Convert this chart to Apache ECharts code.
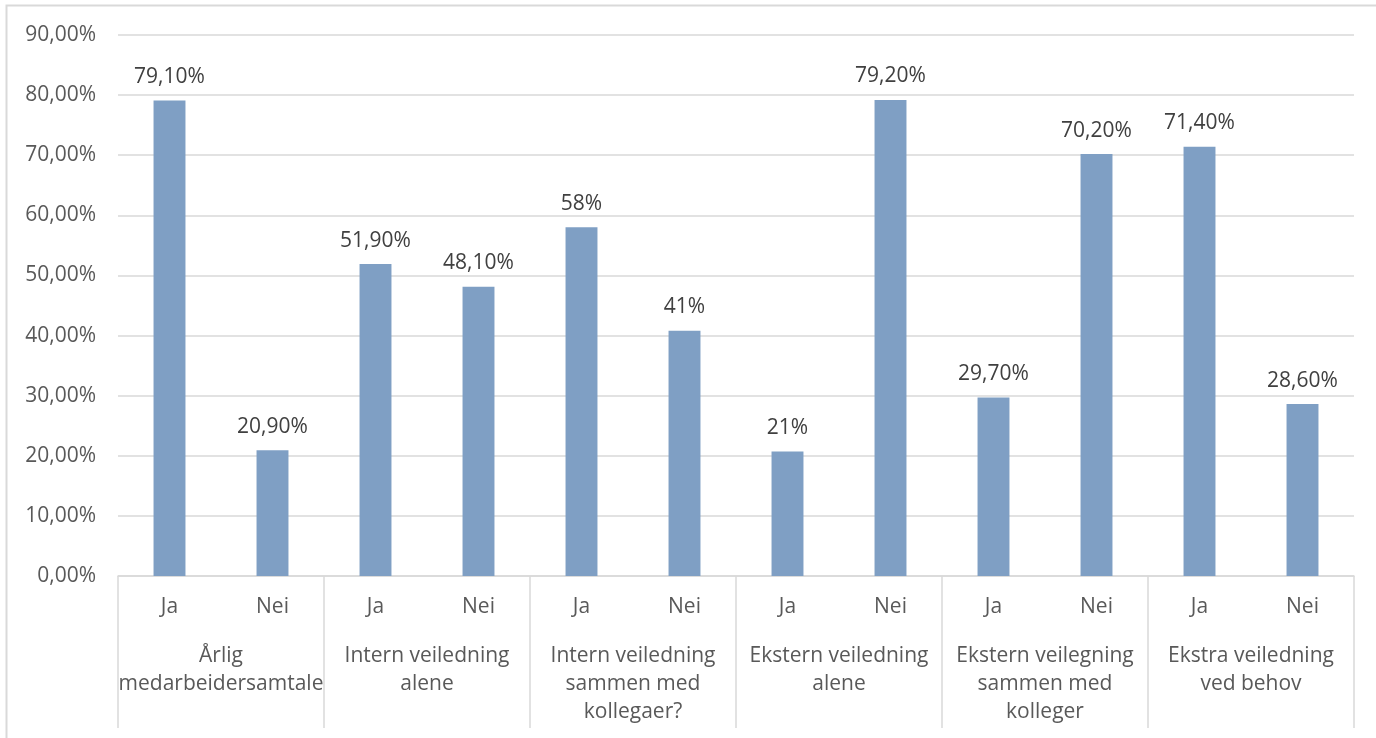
<!DOCTYPE html>
<html>
<head>
<meta charset="utf-8">
<script src="https://cdn.jsdelivr.net/npm/echarts@6/dist/echarts.min.js"></script>
<style>
html, body { margin: 0; padding: 0; background: #fff; }
#chart { width: 1376px; height: 738px; }
</style>
</head>
<body>
<div id="chart"></div>
<script>
const answers = ['Ja', 'Nei', 'Ja', 'Nei', 'Ja', 'Nei', 'Ja', 'Nei', 'Ja', 'Nei', 'Ja', 'Nei']
const groups = [
    'Årlig\nmedarbeidersamtale',
    'Intern veiledning\nalene',
    'Intern veiledning\nsammen med\nkollegaer?',
    'Ekstern veiledning\nalene',
    'Ekstern veilegning\nsammen med\nkolleger',
    'Ekstra veiledning\nved behov'
]
const values = [79.1, 20.9, 51.9, 48.1, 58, 40.8, 20.7, 79.2, 29.7, 70.2, 71.4, 28.6]
const valueLabels = ['79,10%', '20,90%', '51,90%', '48,10%', '58%', '41%', '21%', '79,20%', '29,70%', '70,20%', '71,40%', '28,60%']

let chart = echarts.init(document.getElementById('chart'))
const font = 'Open Sans'
const gridColor = '#d9d9d9'
const fs = 21

let option = {
    animation: false,
    textStyle: { fontFamily: font },
    grid: { left: 118, right: 22, top: 35, bottom: 162 },
    graphic: [{
        type: 'rect',
        shape: { x: 6.5, y: 5.5, width: 1400, height: 800 },
        style: { fill: 'none', stroke: gridColor, lineWidth: 2 },
        silent: true
    }],
    xAxis: [{
        type: 'category',
        data: answers,
        position: 'bottom',
        axisLine: { show: true, lineStyle: { color: gridColor, width: 1.5 } },
        axisTick: { show: false },
        axisLabel: { interval: 0, color: '#595959', fontSize: fs, margin: 21, fontFamily: font }
    }, {
        type: 'category',
        data: groups,
        position: 'bottom',
        axisLine: { show: false },
        axisTick: { show: true, interval: 0, length: 152, lineStyle: { color: gridColor, width: 1.5 } },
        axisLabel: {
            interval: 0,
            color: '#595959', fontSize: fs, margin: 66, lineHeight: 28,
            fontFamily: font, verticalAlign: 'top', align: 'center'
        }
    }],
    yAxis: {
        type: 'value',
        min: 0,
        max: 90,
        interval: 10,
        axisLine: { show: false },
        axisTick: { show: false },
        splitLine: { lineStyle: { color: gridColor, width: 1.5 } },
        axisLabel: {
            color: '#595959', fontSize: fs, margin: 22, fontFamily: font,
            formatter: v => v.toFixed(2).replace('.', ',') + '%'
        }
    },
    series: [{
        type: 'bar',
        xAxisIndex: 0,
        data: values,
        barWidth: '31%',
        itemStyle: { color: '#7f9fc4' },
        label: {
            show: true,
            position: 'top',
            distance: 13,
            color: '#404040',
            fontSize: fs,
            fontFamily: font,
            formatter: p => valueLabels[p.dataIndex]
        }
    }]
}
chart.setOption(option)
</script>
</body>
</html>
